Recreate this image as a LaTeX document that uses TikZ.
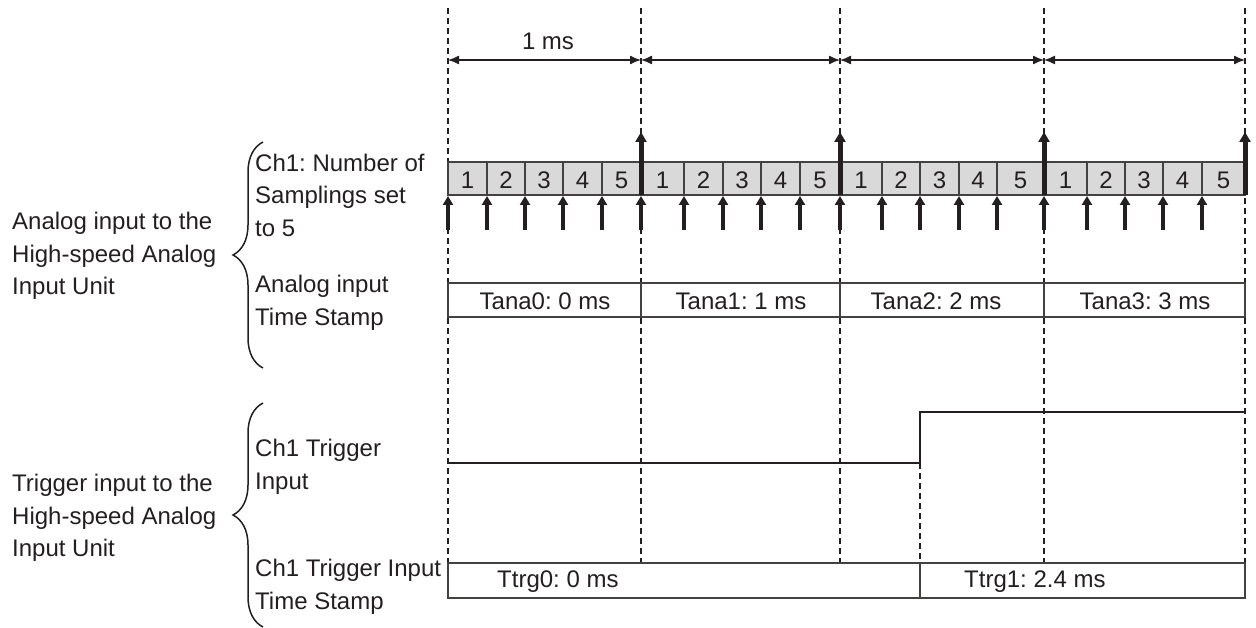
\documentclass[tikz,border=0pt]{standalone}
\usepackage{fontspec}
\setmainfont{Liberation Sans}
\usetikzlibrary{arrows.meta,decorations.pathreplacing}
\definecolor{ink}{RGB}{35,31,32}
\definecolor{cellgray}{RGB}{217,217,217}
\frenchspacing
\begin{document}
\frenchspacing
\begin{tikzpicture}[x=1pt,y=-1pt,
  lbl/.style={font=\fontsize{24}{32.5}\selectfont\frenchspacing, align=left, inner sep=0pt, text=ink},
  txt/.style={font=\fontsize{24}{29}\selectfont\frenchspacing, inner sep=0pt, text=ink},
  gridline/.style={dash pattern=on 6pt off 4pt, line width=1.2pt, draw=ink},
  boxline/.style={line width=1.3pt, draw=ink!85},
  dimline/.style={line width=1.3pt, draw=ink, {Latex[length=11pt,width=9pt]}-{Latex[length=11pt,width=9pt]}},
  samparrow/.style={line width=4pt, draw=ink, -{Triangle[length=9pt,width=10pt]}},
  bigarrow/.style={line width=5pt, draw=ink, -{Triangle[length=10pt,width=11pt]}},
  bracestyle/.style={line width=1.5pt, draw=ink, decorate, decoration={brace, amplitude=30pt}},
  sigline/.style={line width=1.3pt, draw=ink}
]
\useasboundingbox (0,0) rectangle (1256,628);

% time ticks
\foreach \i/\x in {0/448,1/641,2/840,3/1044,4/1245}{
  \coordinate (top\i) at (\x,8);
  \coordinate (dim\i) at (\x,60);
  \coordinate (bot\i) at (\x,563);
}
\foreach \i in {0,...,4}{ \draw[gridline] (top\i) -- (bot\i); }
\coordinate (stepdash) at (920,463);
\coordinate (stepbot) at (920,563);
\draw[gridline] (stepdash) -- (stepbot);

% 1 ms dimension arrows
\draw[dimline] (dim0) -- (dim1);
\draw[dimline] (dim1) -- (dim2);
\draw[dimline] (dim2) -- (dim3);
\draw[dimline] (dim3) -- (dim4);
\node[txt] (onems) at (548,41) {1 ms};

% sampling cells
\fill[cellgray] (448,162) rectangle (1245,195);
\draw[boxline] (448,162) rectangle (1245,195);
\foreach \a/\b/\n in {448/487/1,487/525/2,525/563/3,563/602/4,602/641/5,
                      641/684/1,684/723/2,723/761/3,761/800/4,800/840/5,
                      840/882/1,882/920/2,920/959/3,959/997/4,997/1044/5,
                      1044/1087/1,1087/1125/2,1125/1163/3,1163/1202/4,1202/1245/5}{
  \draw[boxline] (\b,162) -- (\b,195);
  \node[txt] at ({(\a+\b)/2},180) {\n};
}
% sampling arrows
\foreach \x in {448,487,525,563,602,641,684,723,761,800,840,882,920,959,997,1044,1087,1125,1163,1202}{
  \draw[samparrow] (\x,230) -- (\x,196);
}
\foreach \x in {641,840,1044,1245}{
  \draw[bigarrow] (\x,195) -- (\x,132);
}

% analog time stamp
\fill[white] (448,283) rectangle (1245,317);
\draw[boxline] (448,283) rectangle (1245,317);
\foreach \x in {641,840,1044}{ \draw[boxline] (\x,283) -- (\x,317); }
\node[txt] (tana0) at (545,301) {Tana0: 0 ms};
\node[txt] (tana1) at (741,301) {Tana1: 1 ms};
\node[txt] (tana2) at (936,301) {Tana2: 2 ms};
\node[txt] (tana3) at (1145,301) {Tana3: 3 ms};

% trigger input
\coordinate (lowstart) at (448,463);
\coordinate (lowend) at (920,463);
\coordinate (highstart) at (920,412);
\coordinate (highend) at (1245,412);
\draw[sigline] (lowstart) -- (lowend) -- (highstart) -- (highend);

% trigger time stamp
\fill[white] (448,563) rectangle (1245,598);
\draw[boxline] (448,563) rectangle (1245,598);
\draw[boxline] (920,563) -- (920,598);
\node[txt, anchor=west] (ttrg0) at (497,582) {Ttrg0: 0 ms};
\node[txt, anchor=west] (ttrg1) at (964,582) {Ttrg1: 2.4 ms};

% labels
\node[lbl, anchor=west] (samplbl) at (255,195) {Ch1: Number of\\Samplings set\\to 5};
\node[lbl, anchor=west] (tslbl) at (255,303) {Analog input\\Time Stamp};
\node[lbl, anchor=west] (trglbl) at (255,467) {Ch1 Trigger\\Input};
\node[lbl, anchor=west] (ttslbl) at (255,587) {Ch1 Trigger Input\\Time Stamp};
\node[lbl, anchor=west] (analog) at (12,256) {Analog input to the\\High-speed Analog\\Input Unit};
\node[lbl, anchor=west] (trigger) at (12,518) {Trigger input to the\\High-speed Analog\\Input Unit};

% braces
\draw[bracestyle] (263,368) -- (263,142);
\draw[bracestyle] (263,627) -- (263,403);
\end{tikzpicture}
\end{document}
